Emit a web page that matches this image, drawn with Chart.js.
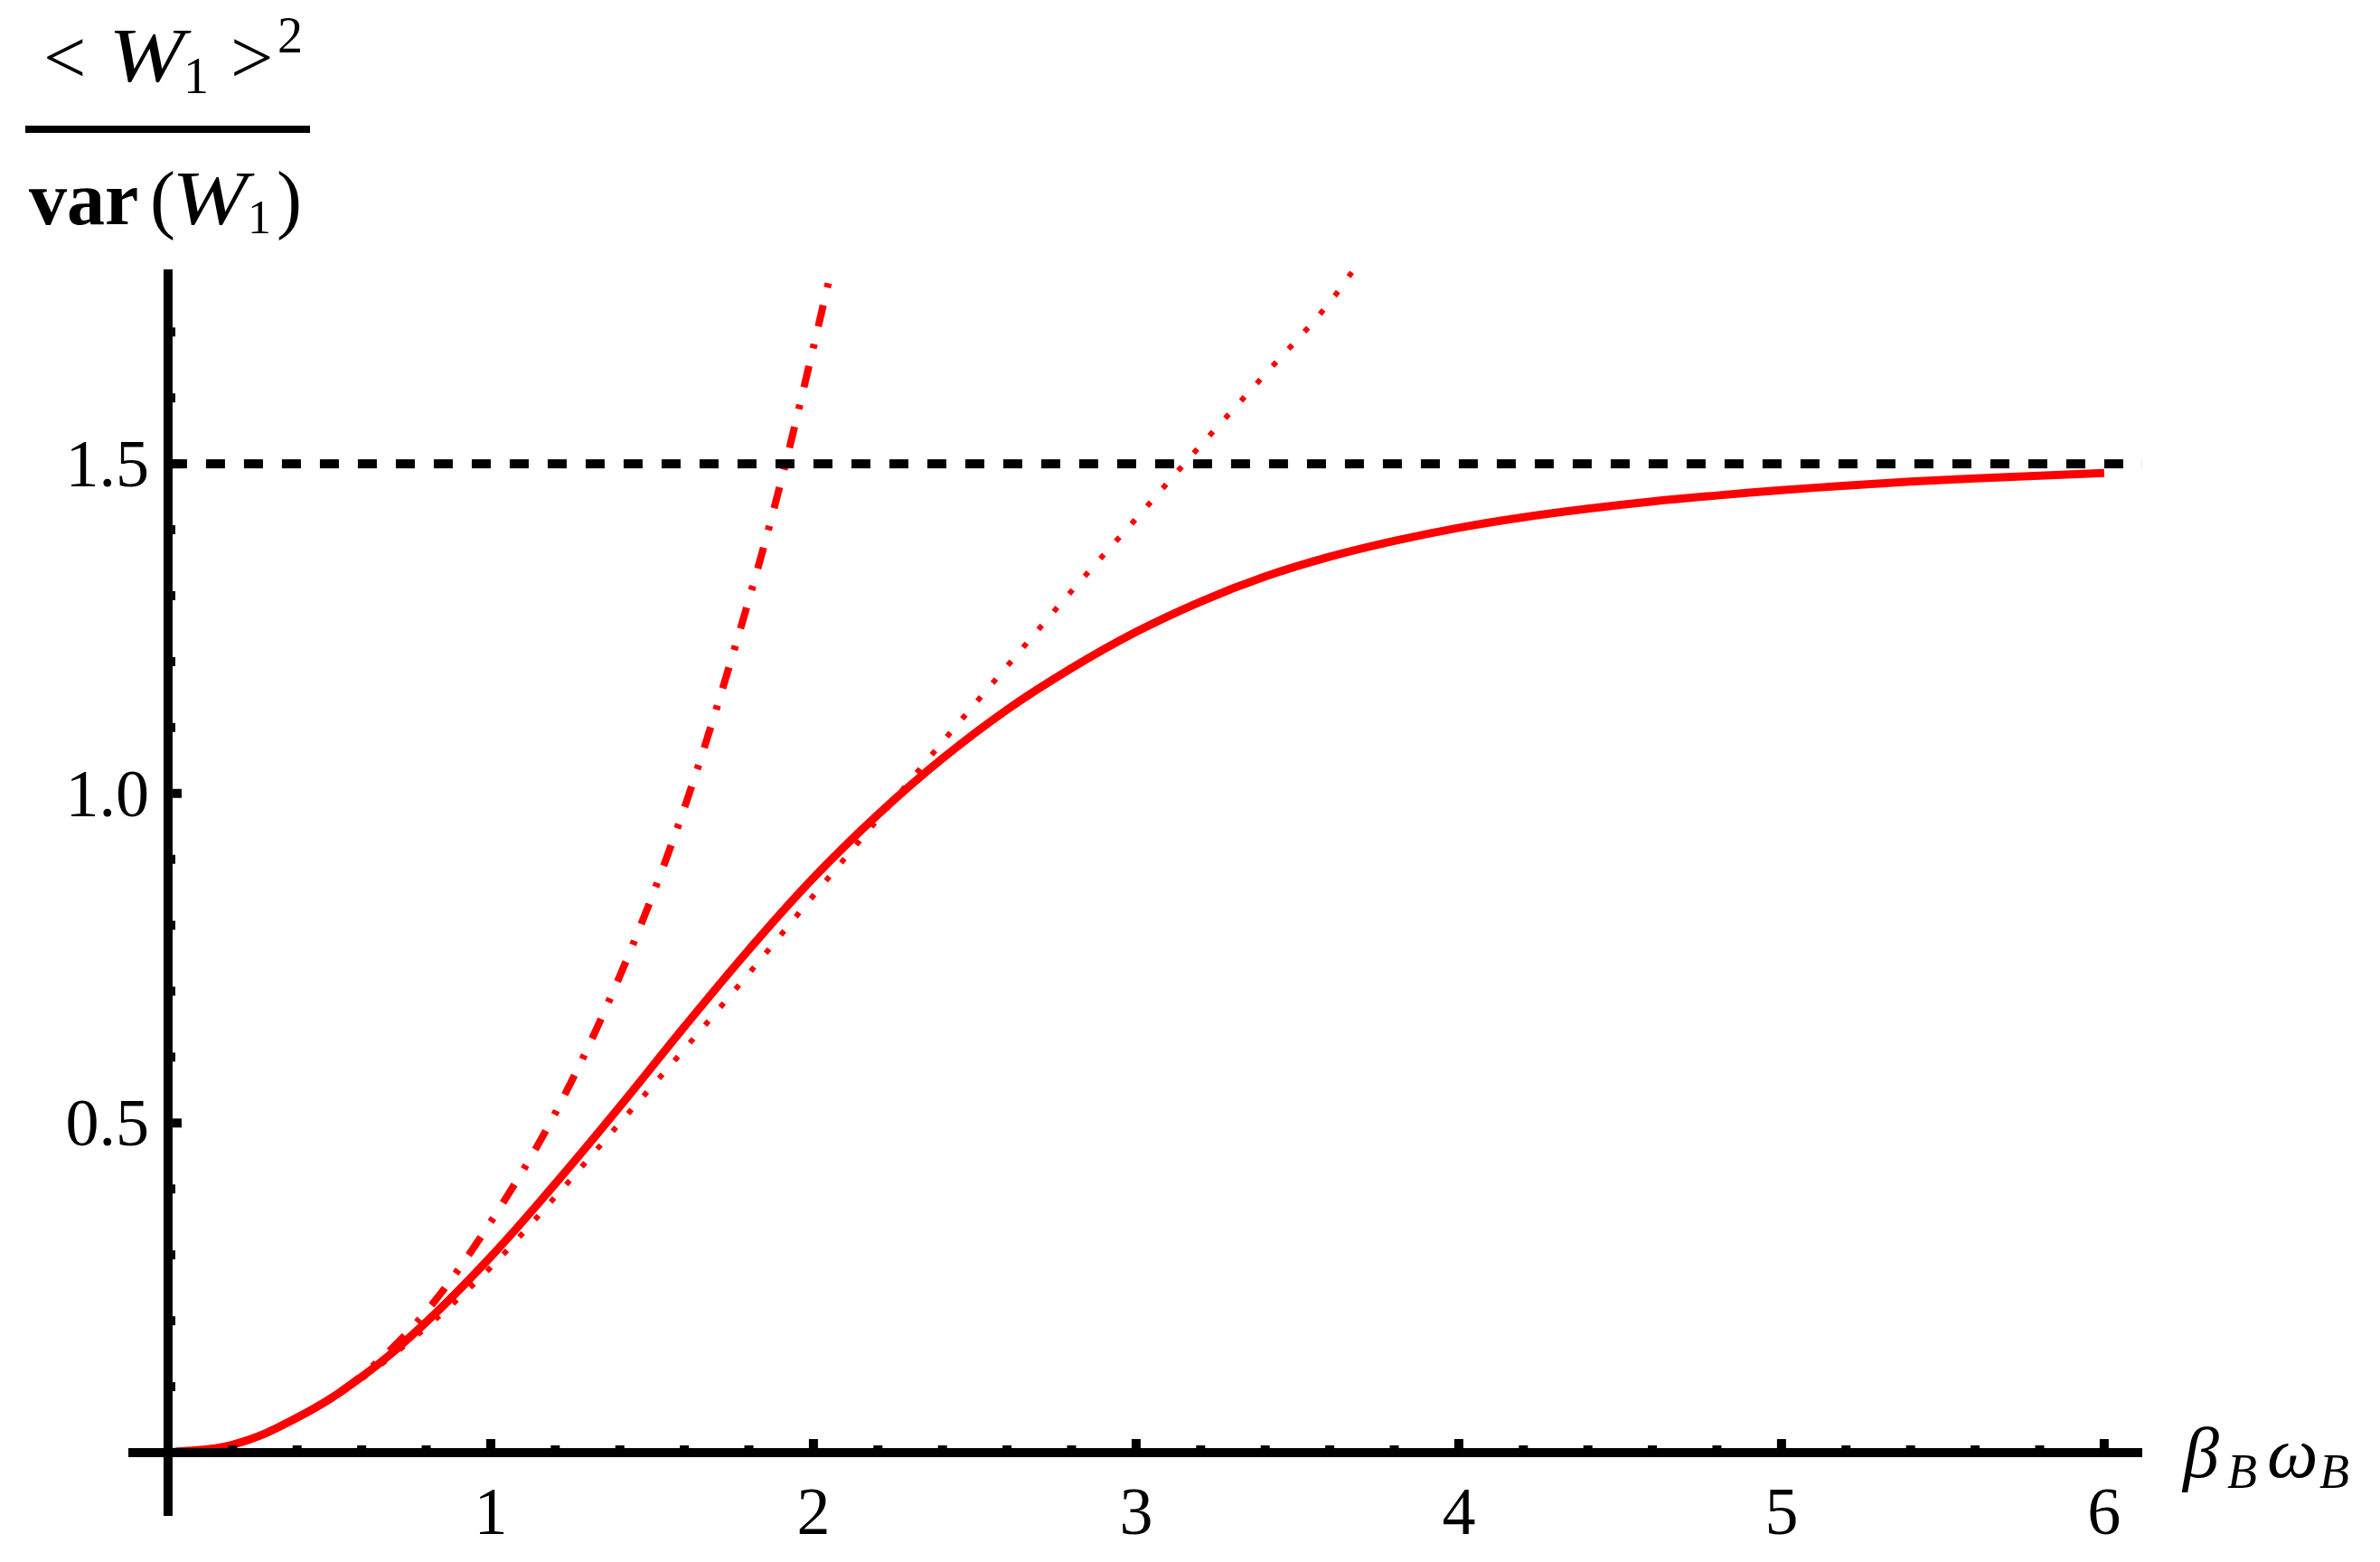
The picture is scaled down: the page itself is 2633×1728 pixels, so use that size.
<!DOCTYPE html>
<html>
<head>
<meta charset="utf-8">
<script src="https://cdn.jsdelivr.net/npm/chart.js@4.4.1/dist/chart.umd.min.js"></script>
<style>
  html, body { margin: 0; padding: 0; background: #fff; }
  #wrap { width: 2633px; height: 1728px; }
</style>
</head>
<body>
<div id="wrap"><canvas id="plot" width="2633" height="1728"></canvas></div>
<script>
  // x axis: beta_B * omega_B, y axis: <W1>^2 / var(W1)
  const solidX = [0, 0.2, 0.4, 0.6, 0.8, 1.0, 1.2, 1.4, 1.6, 1.8, 2.0, 2.2, 2.4, 2.6, 2.8, 3.0, 3.2, 3.4, 3.6, 3.8, 4.0, 4.2, 4.4, 4.6, 4.8, 5.0, 5.2, 5.4, 5.6, 5.8, 6.0];
  const solidY = [0, 0.012, 0.053, 0.115, 0.198, 0.297, 0.408, 0.525, 0.646, 0.763, 0.872, 0.968, 1.053, 1.127, 1.190, 1.245, 1.291, 1.329, 1.359, 1.383, 1.403, 1.419, 1.432, 1.443, 1.452, 1.460, 1.467, 1.473, 1.478, 1.482, 1.486];

  const dottedX = [0, 0.2, 0.4, 0.6, 0.8, 1.0, 1.2, 1.4, 1.6, 1.8, 2.0, 2.2, 2.4, 2.6, 2.8, 3.0, 3.2, 3.4, 3.6, 3.675];
  const dottedY = [0, 0.012, 0.052, 0.112, 0.19, 0.281, 0.388, 0.50, 0.612, 0.727, 0.845, 0.961, 1.078, 1.193, 1.307, 1.417, 1.528, 1.636, 1.745, 1.795];

  const dashDotX = [0, 0.2, 0.4, 0.6, 0.8, 1.0, 1.2, 1.4, 1.6, 1.8, 1.9, 2.0, 2.056];
  const dashDotY = [0, 0.012, 0.053, 0.117, 0.214, 0.35, 0.515, 0.723, 0.978, 1.294, 1.474, 1.677, 1.795];

  const limitX = [0, 6.118];
  const limitY = [1.5, 1.5];

  const xTicks = [1, 2, 3, 4, 5, 6];
  const yTicks = [0.5, 1.0, 1.5];
  const xMinorStep = 0.2;
  const yMinorStep = 0.1;

  const pts = (xs, ys) => xs.map((x, i) => ({ x: x, y: ys[i] }));

  const serif = '"Liberation Serif", "DejaVu Serif", serif';

  function wideText(ctx, txt, x, y, sx) {
    ctx.save();
    ctx.translate(x, y);
    ctx.scale(sx, 1);
    ctx.fillText(txt, 0, 0);
    ctx.restore();
  }

  // Mathematica-style axes through the origin, ticks pointing inward
  const axesPlugin = {
    id: 'mmaAxes',
    afterDatasetsDraw(chart) {
      const ctx = chart.ctx;
      const xs = chart.scales.x, ys = chart.scales.y;
      const area = chart.chartArea;
      const x0 = xs.getPixelForValue(0);
      const y0 = ys.getPixelForValue(0);
      ctx.save();
      ctx.fillStyle = '#000';
      ctx.fillRect(area.left, y0 - 5, area.right - area.left, 10);
      ctx.fillRect(x0 - 5, area.top, 10, area.bottom - area.top);

      for (let i = 1; i * xMinorStep <= xs.max; i++) {
        const v = i * xMinorStep;
        const len = i % 5 === 0 ? 10 : 3;
        ctx.fillRect(xs.getPixelForValue(v) - 5, y0 - 5 - len, 10, len);
      }
      for (let i = 1; i * yMinorStep <= ys.max; i++) {
        const v = i * yMinorStep;
        const len = i % 5 === 0 ? 10 : 3;
        ctx.fillRect(x0 + 5, ys.getPixelForValue(v) - 5, len, 10);
      }

      ctx.font = '74px ' + serif;
      ctx.textBaseline = 'alphabetic';
      ctx.textAlign = 'center';
      xTicks.forEach(v => ctx.fillText(String(v), xs.getPixelForValue(v), y0 + 90));
      ctx.textAlign = 'right';
      yTicks.forEach(v => ctx.fillText(v.toFixed(1), x0 - 21, ys.getPixelForValue(v) + 25));

      // x axis label
      ctx.textAlign = 'left';
      ctx.font = 'italic 80px ' + serif;
      ctx.fillText('β', 2415, 1634);
      ctx.fillText('ω', 2508, 1634);
      ctx.font = 'italic 54px ' + serif;
      ctx.fillText('B', 2464, 1646);
      ctx.fillText('B', 2566, 1646);

      // y axis label (fraction)
      ctx.font = '84px ' + serif;
      ctx.fillText('<', 48, 92);
      ctx.fillText('>', 255, 92);
      ctx.font = 'italic 84px ' + serif;
      wideText(ctx, 'W', 120, 90, 1.2);
      ctx.font = '56px ' + serif;
      ctx.fillText('1', 203, 103);
      ctx.fillText('2', 307, 58);
      ctx.fillRect(28, 139, 315, 8);

      ctx.font = 'bold 84px ' + serif;
      ctx.fillText('var', 32, 248);
      ctx.font = '84px ' + serif;
      ctx.fillText('(', 166, 248);
      ctx.fillText(')', 306, 248);
      ctx.font = 'italic 84px ' + serif;
      wideText(ctx, 'W', 190, 248, 1.2);
      ctx.font = '52px ' + serif;
      ctx.fillText('1', 274, 258);
      ctx.restore();
    }
  };

  new Chart(document.getElementById('plot'), {
    type: 'line',
    data: {
      datasets: [
        {
          label: 'limit',
          data: pts(limitX, limitY),
          borderColor: '#000',
          borderWidth: 10,
          borderDash: [21, 21],
          pointRadius: 0
        },
        {
          label: 'dotted',
          data: pts(dottedX, dottedY),
          borderColor: '#ff0000',
          borderWidth: 6,
          borderDash: [6, 20],
          pointRadius: 0,
          cubicInterpolationMode: 'monotone'
        },
        {
          label: 'dash-dot',
          data: pts(dashDotX, dashDotY),
          borderColor: '#ff0000',
          borderWidth: 8,
          borderDash: [24, 20, 5, 20],
          pointRadius: 0,
          cubicInterpolationMode: 'monotone'
        },
        {
          label: 'exact',
          data: pts(solidX, solidY),
          borderColor: '#ff0000',
          borderWidth: 9,
          pointRadius: 0,
          tension: 0.4
        }
      ]
    },
    options: {
      responsive: false,
      animation: false,
      layout: { padding: { left: 142, right: 263, top: 298, bottom: 51 } },
      scales: {
        x: { type: 'linear', min: -0.123, max: 6.118, display: false },
        y: { type: 'linear', min: -0.096, max: 1.795, display: false }
      },
      plugins: {
        legend: { display: false },
        tooltip: { enabled: false }
      }
    },
    plugins: [axesPlugin]
  });
</script>
</body>
</html>
